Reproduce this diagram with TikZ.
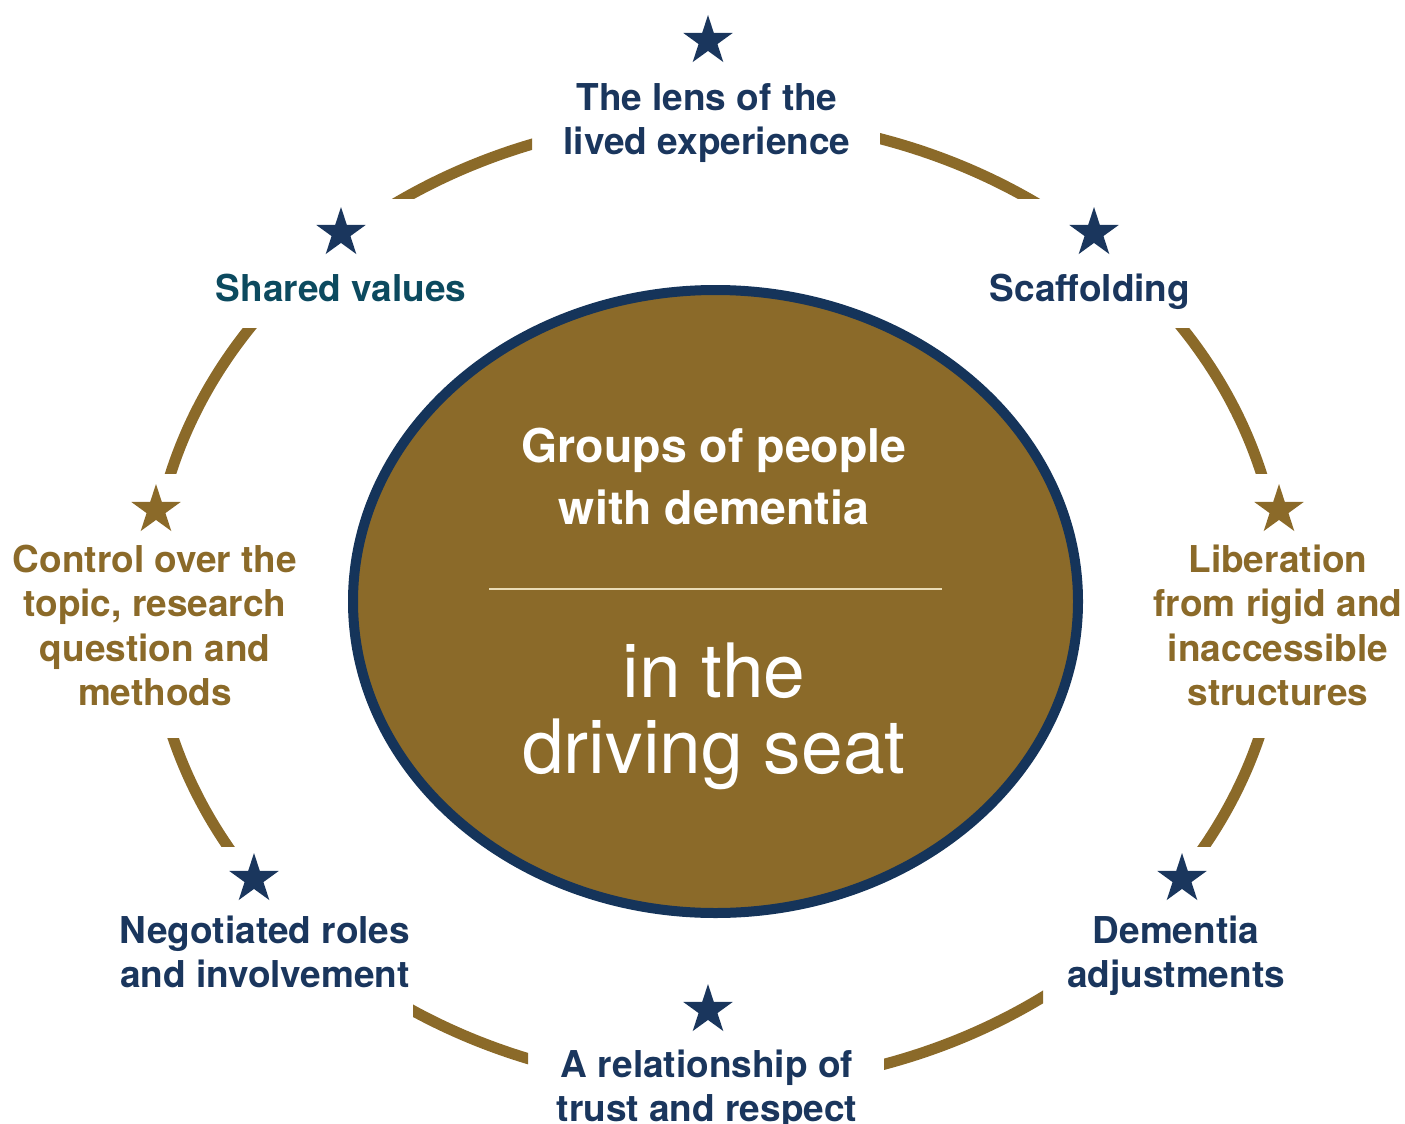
\documentclass[tikz,border=0pt]{standalone}
\usepackage{fontspec}
\setmainfont{TeX Gyre Heros}
\usetikzlibrary{shapes.geometric}
\definecolor{navy}{HTML}{1A365D}
\definecolor{teal}{HTML}{0C4A5F}
\definecolor{gold}{HTML}{8B6A29}
\definecolor{rim}{HTML}{15345A}
\definecolor{cream}{HTML}{EADCB6}
\begin{document}
\begin{tikzpicture}[x=1pt,y=-1pt,
  lbl/.style={font=\fontsize{37}{44.5}\selectfont\bfseries, align=center, anchor=base, inner sep=0pt},
  starmark/.style={star, star points=5, star point ratio=2.618, minimum size=52pt, inner sep=0pt, draw=none, fill=#1},
  ring/.style={draw=gold, line width=11pt}]
\useasboundingbox (0,0) rectangle (1405,1124);
% outer ring segments
\foreach \xa/\ya/\xb/\yb in {0/0/532/198, 880/0/1405/198, 900/328/1405/473, 900/738/1405/846, 884/900/1043/1124, 413/900/528/1124, 0/738/500/846, 0/328/500/473}{
  \begin{scope}
    \clip (\xa,\ya) rectangle (\xb,\yb);
    \draw[ring] (716,602) ellipse [x radius=565.5pt, y radius=484pt];
  \end{scope}
}
% central ellipse
\node[draw=rim, fill=gold, line width=10pt, ellipse, minimum width=725pt, minimum height=623pt, inner sep=0pt] (hub) at (715.5,601.5) {};
\coordinate (dl) at (489,589);
\coordinate (dr) at (942,589);
\draw[cream, line width=1.5pt] (dl) -- (dr);
\node[lbl, text=white, font=\fontsize{46.5}{62}\selectfont\bfseries] (groups) at (714,524) {Groups of people\\with dementia};
\node[lbl, text=white, font=\fontsize{75}{76}\selectfont] (seat) at (714,773) {in the\\driving seat};
% stars
\node[starmark=navy] (s1) at (708,41) {};
\node[starmark=navy] (s2) at (341,233) {};
\node[starmark=navy] (s3) at (1094,233) {};
\node[starmark=gold] (s4) at (156,510) {};
\node[starmark=gold] (s5) at (1279,510) {};
\node[starmark=navy] (s6) at (254,879) {};
\node[starmark=navy] (s7) at (1182,879) {};
\node[starmark=navy] (s8) at (708,1010) {};
% labels
\node[lbl, text=navy] (t1) at (707,154.5) {The lens of the\\lived experience};
\node[lbl, text=teal] (t2) at (341,301) {Shared values};
\node[lbl, text=navy] (t3) at (1090,301) {Scaffolding};
\node[lbl, text=gold] (t4) at (155,705.5) {Control over the\\topic, research\\question and\\methods};
\node[lbl, text=gold] (t5) at (1278,705.5) {Liberation\\from rigid and\\inaccessible\\structures};
\node[lbl, text=navy] (t6) at (265,987.5) {Negotiated roles\\and involvement};
\node[lbl, text=navy] (t7) at (1176,987.5) {Dementia\\adjustments};
\node[lbl, text=navy] (t8) at (707,1121.5) {A relationship of\\trust and respect};
\end{tikzpicture}
\end{document}
